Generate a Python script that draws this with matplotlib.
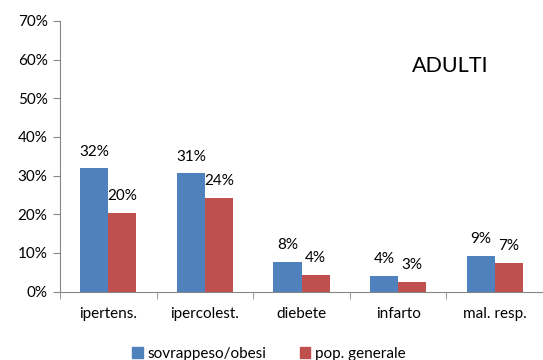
import matplotlib.pyplot as plt
import numpy as np
from matplotlib.patches import Patch

categories = ['ipertens.', 'ipercolest.', 'diebete', 'infarto', 'mal. resp.']
sovrappeso = [31.9, 30.6, 7.6, 4.1, 9.2]
popolazione = [20.3, 24.2, 4.3, 2.6, 7.4]
series_names = ['sovrappeso/obesi', 'pop. generale']
yticks = [0, 10, 20, 30, 40, 50, 60, 70]

blue = '#4F81BD'
red = '#C0504D'
grey = '#868686'

plt.rcParams['font.family'] = ['Lato', 'DejaVu Sans']

fig = plt.figure(figsize=(5.43, 3.6), dpi=100)
ax = fig.add_axes([0.1105, 0.19, 0.8895, 0.752])

x = np.arange(len(categories))
w = 0.29
b1 = ax.bar(x - w / 2, sovrappeso, w, color=blue, edgecolor='none')
b2 = ax.bar(x + w / 2, popolazione, w, color=red, edgecolor='none')

for bars, vals in ((b1, sovrappeso), (b2, popolazione)):
    for bar, v in zip(bars, vals):
        ax.annotate('%d%%' % round(v), (bar.get_x() + bar.get_width() / 2, v),
                    xytext=(0, 7), textcoords='offset points',
                    ha='center', va='bottom', fontsize=11, color='black')

ax.set_xlim(-0.5, len(categories) - 0.5)
ax.set_ylim(0, 70)
ax.set_yticks(yticks)
ax.set_yticklabels(['%d%%' % t for t in yticks])
ax.set_xticks(x)
ax.set_xticklabels(categories)
ax.set_xticks(np.arange(len(categories) + 1) - 0.5, minor=True)

ax.tick_params(axis='x', which='major', length=0, pad=11, labelsize=11)
ax.tick_params(axis='x', which='minor', length=5, color=grey, direction='out')
ax.tick_params(axis='y', length=5, color=grey, labelsize=11, pad=4)

for s in ('top', 'right'):
    ax.spines[s].set_visible(False)
for s in ('left', 'bottom'):
    ax.spines[s].set_color(grey)

ax.text(0.808, 0.835, 'ADULTI', transform=ax.transAxes, ha='center', va='center', fontsize=15.5)

handles = [Patch(color=blue), Patch(color=red)]
fig.legend(handles, series_names, loc='lower center', bbox_to_anchor=(0.495, -0.04),
           ncol=2, frameon=False, fontsize=11, handlelength=0.7, handleheight=0.7,
           handletextpad=0.3, columnspacing=2.2)

fig.savefig('out.png', dpi=100)
